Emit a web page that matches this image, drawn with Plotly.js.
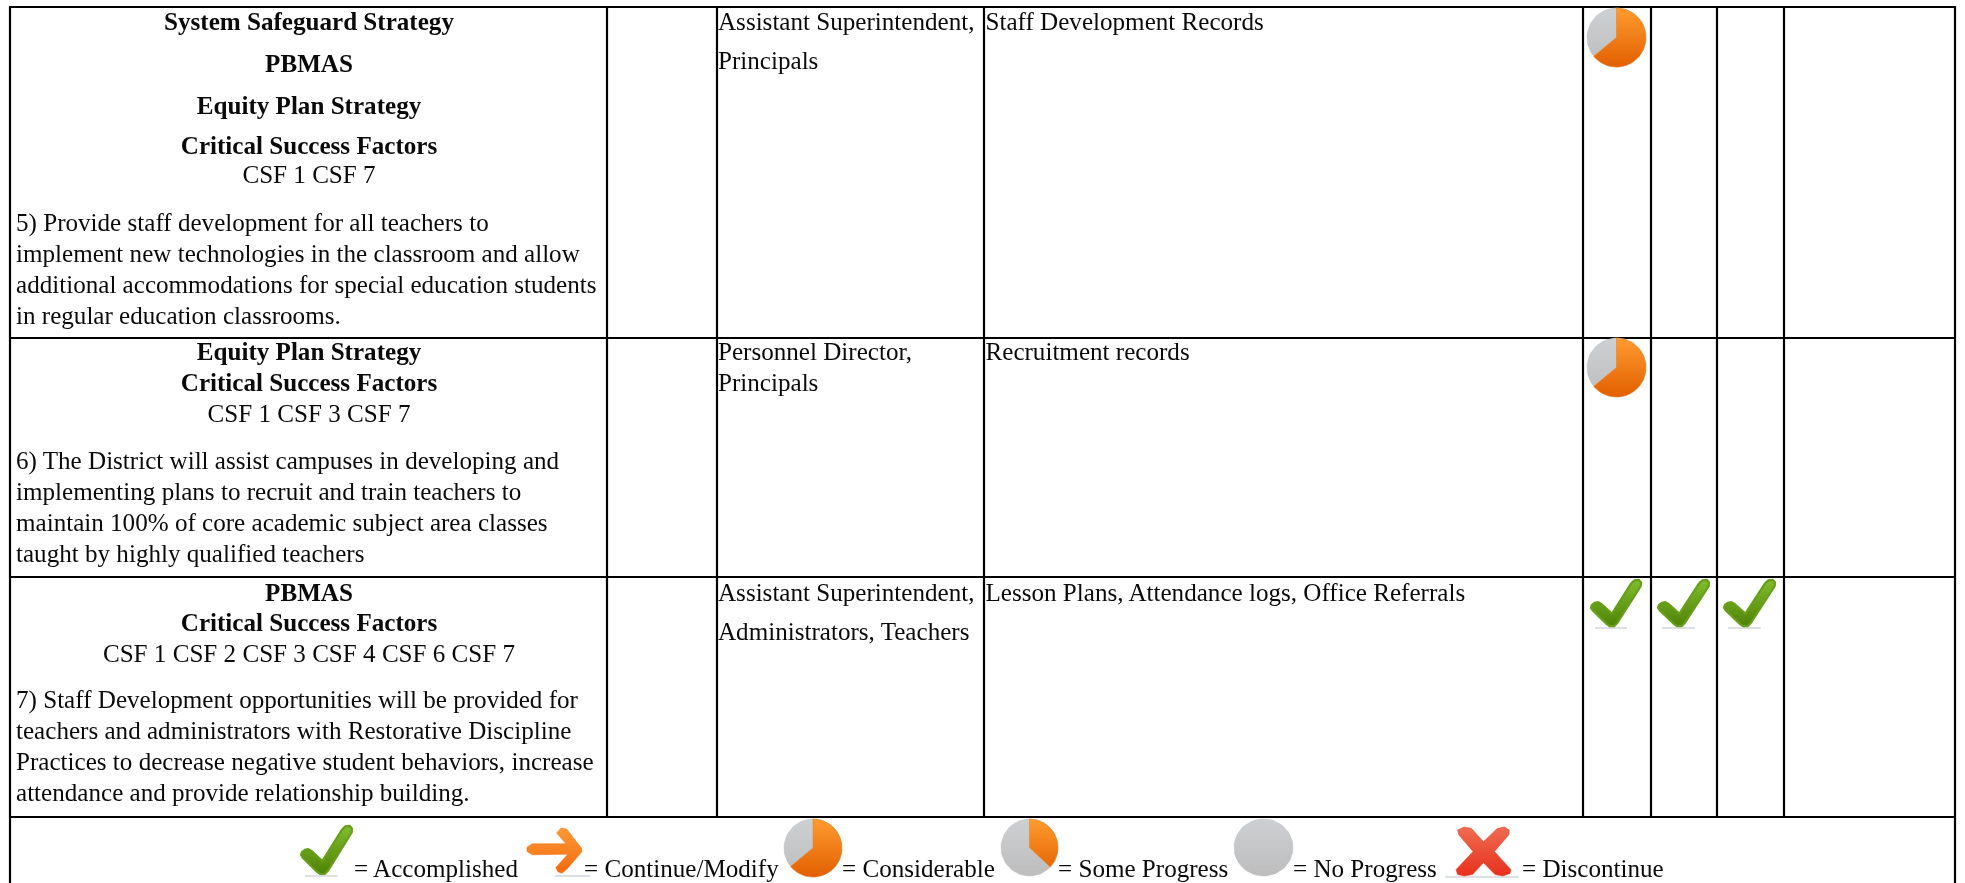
<!DOCTYPE html>
<html>
<head>
<meta charset="utf-8">
<script src="https://cdn.plot.ly/plotly-3.0.1.min.js"></script>
<style>html,body{margin:0;padding:0;background:#fff;overflow:hidden}#chart{width:1965px;height:883px;filter:blur(0.4px)}</style>
</head>
<body>
<div id="chart"></div>
<script>
// ---- table content ----
const headingsRow1 = ['System Safeguard Strategy', 'PBMAS', 'Equity Plan Strategy', 'Critical Success Factors'];
const csfRow1 = 'CSF 1 CSF 7';
const strategyRow1 = ['5) Provide staff development for all teachers to',
  'implement new technologies in the classroom and allow',
  'additional accommodations for special education students',
  'in regular education classrooms.'];
const headingsRow2 = ['Equity Plan Strategy', 'Critical Success Factors'];
const csfRow2 = 'CSF 1 CSF 3 CSF 7';
const strategyRow2 = ['6) The District will assist campuses in developing and',
  'implementing plans to recruit and train teachers to',
  'maintain 100% of core academic subject area classes',
  'taught by highly qualified teachers'];
const headingsRow3 = ['PBMAS', 'Critical Success Factors'];
const csfRow3 = 'CSF 1 CSF 2 CSF 3 CSF 4 CSF 6 CSF 7';
const strategyRow3 = ['7) Staff Development opportunities will be provided for',
  'teachers and administrators with Restorative Discipline',
  'Practices to decrease negative student behaviors, increase',
  'attendance and provide relationship building.'];
const responsible = [['Assistant Superintendent,', 'Principals'],
  ['Personnel Director,', 'Principals'],
  ['Assistant Superintendent,', 'Administrators, Teachers']];
const evidence = ['Staff Development Records', 'Recruitment records', 'Lesson Plans, Attendance logs, Office Referrals'];
const reviewStatus = [['considerable'], ['considerable'], ['accomplished', 'accomplished', 'accomplished']];
const legendLabels = ['= Accomplished', '= Continue/Modify', '= Considerable', '= Some Progress', '= No Progress', '= Discontinue'];
const progressShare = {considerable: 0.64, some: 0.37, none: 0};

// ---- page geometry (pixels of the 1965x883 sheet) ----
const colX = [10, 607, 717, 984, 1583, 1651, 1717, 1784, 1955];
const rowY = [7, 338, 577, 817];
const pieBox = [1587, 1646];
const checkBoxes = [[1591, 1641], [1658, 1709], [1724, 1775]];
const iconTop = [8, 338, 580];

const FONT = 'Liberation Serif, Times New Roman, serif';
const SIZE = 25.1, INK = '#0a0a0a';
const traces = [];

function textTrace(xs, ys, labels, pos, bold) {
  traces.push({type: 'scatter', mode: 'text', x: xs, y: ys, text: labels, textposition: pos,
    textfont: {family: FONT, size: SIZE, color: INK, weight: bold ? 700 : 400},
    hoverinfo: 'skip', showlegend: false, cliponaxis: false});
}
function blob(xs, ys, top, bottom, edge, edgeWidth) {
  const y0 = Math.min(...ys), y1 = Math.max(...ys);
  traces.push({type: 'scatter', mode: 'lines', x: xs, y: ys, fill: 'toself', hoverinfo: 'skip', showlegend: false,
    line: {color: edge || bottom, width: edgeWidth || 0.5}, fillcolor: top,
    fillgradient: {type: 'vertical', start: y0, stop: y1, colorscale: [[0, top], [1, bottom]]}});
}
// wedge/ellipse built from a progress share
function pie(x0, x1, y0, y1, share) {
  const cx = (x0 + x1) / 2, cy = (y0 + y1) / 2, rx = (x1 - x0) / 2, ry = (y1 - y0) / 2;
  const ell = (from, to) => { const xs = [], ys = [];
    for (let i = 0; i <= 72; i++) { const a = from + (to - from) * i / 72;
      xs.push(cx + rx * Math.sin(a)); ys.push(cy - ry * Math.cos(a)); }
    return [xs, ys]; };
  const [gx, gy] = ell(0, 2 * Math.PI);
  blob(gx, gy, '#cdd0d3', '#bdbdbd');
  if (share > 0) {
    const [ox, oy] = ell(0, 2 * Math.PI * share);
    traces.push({type: 'scatter', mode: 'lines', x: [cx, ...ox, cx], y: [cy, ...oy, cy], fill: 'toself', hoverinfo: 'skip', showlegend: false,
      line: {color: '#f07a12', width: 0.5}, fillcolor: '#f07a12',
      fillgradient: {type: 'vertical', start: y0, stop: y1, colorscale: [[0, '#ff9c30'], [1, '#e25f00']]}});
  }
}
// outlines in a 0..1 box
const checkOutline = [[.808,.067],[.871,.007],[.955,0],[1,.053],[.994,.133],[.529,.913],[.465,.98],[.374,.98],[.31,.933],[.032,.647],[0,.587],[.019,.533],[.077,.487],[.142,.473],[.206,.507],[.419,.713]];
const arrowOutline = [[.097,.336],[.71,.336],[.54,.107],[.62,0],[.72,.021],[.992,.429],[1,.5],[.742,.857],[.637,.964],[.56,.929],[.524,.843],[.742,.557],[.097,.571],[0,.5],[0,.407]];
const crossOutline = [[.03,.06],[.15,0],[.28,.03],[.5,.3],[.75,.03],[.88,0],[.97,.06],[.96,.16],[.7,.5],[1,.87],[.98,.95],[.85,1],[.71,.97],[.5,.73],[.3,.97],[.15,1],[.03,.97],[0,.87],[.31,.5],[.05,.16]];
function glyph(outline, x0, x1, y0, y1, top, bottom, edge, edgeWidth) {
  const xs = outline.map(p => x0 + p[0] * (x1 - x0)), ys = outline.map(p => y0 + p[1] * (y1 - y0));
  xs.push(xs[0]); ys.push(ys[0]);
  blob(xs, ys, top, bottom, edge, edgeWidth);
}
function shadow(x0, x1, y) {
  traces.push({type: 'scatter', mode: 'lines', x: [x0, x1], y: [y, y], hoverinfo: 'skip', showlegend: false,
    line: {color: 'rgba(120,130,150,0.25)', width: 2}});
}
function check(x0, x1, y0, y1) {
  shadow(x0 + (x1 - x0) * .08, x0 + (x1 - x0) * .72, y1 + 1);
  glyph(checkOutline, x0, x1, y0, y1, '#80bd2e', '#4f8206', '#679f1a', 2.2);
}

// ---- grid lines ----
const gx = [], gy = [];
colX.forEach((x, i) => {
  const outer = i === 0 || i === colX.length - 1;
  gx.push(x, x, null); gy.push(rowY[0] - 1, outer ? 883 : rowY[3] + 1, null);
});
rowY.forEach(y => { gx.push(colX[0], colX[colX.length - 1], null); gy.push(y, y, null); });
traces.push({type: 'scatter', mode: 'lines', x: gx, y: gy, line: {color: '#000000', width: 2.2}, hoverinfo: 'skip', showlegend: false});

// ---- first column ----
const headCx = 309, leftX = 16;
textTrace(headingsRow1.map(() => headCx), [24, 66, 108, 148], headingsRow1, 'middle center', true);
textTrace([headCx], [177], [csfRow1], 'middle center', false);
textTrace(strategyRow1.map(() => leftX), [224.5, 255.5, 286.5, 318], strategyRow1, 'middle right', false);
textTrace(headingsRow2.map(() => headCx), [354, 385], headingsRow2, 'middle center', true);
textTrace([headCx], [416], [csfRow2], 'middle center', false);
textTrace(strategyRow2.map(() => leftX), [463, 494, 525, 556], strategyRow2, 'middle right', false);
textTrace(headingsRow3.map(() => headCx), [594.5, 625], headingsRow3, 'middle center', true);
textTrace([headCx], [656], [csfRow3], 'middle center', false);
textTrace(strategyRow3.map(() => leftX), [702, 733, 764, 795], strategyRow3, 'middle right', false);

// ---- responsible and evidence ----
const respY = [[24, 63], [354, 385], [595, 634]];
responsible.forEach((lines, r) => textTrace(lines.map(() => 718), respY[r], lines, 'middle right', false));
evidence.forEach((t, r) => textTrace([985.5], [respY[r][0]], [t], 'middle right', false));

// ---- review marks ----
reviewStatus.forEach((marks, r) => marks.forEach((m, c) => {
  if (m === 'considerable') pie(pieBox[0], pieBox[1], iconTop[r], iconTop[r] + 59, progressShare.considerable);
  else check(checkBoxes[c][0], checkBoxes[c][1], iconTop[r], iconTop[r] + 47);
}));

// ---- legend ----
const legendY = 871;
check(301, 352, 826, 875);
shadow(555, 590, 876);
glyph(arrowOutline, 527, 582, 828, 875, '#ff9a33', '#f06a10');
pie(784, 842, 819, 877, progressShare.considerable);
pie(1001, 1058, 819, 876, progressShare.some);
pie(1234, 1293, 819, 876, progressShare.none);
shadow(1445, 1519, 877);
glyph(crossOutline, 1456, 1511, 827, 876, '#ef6c52', '#e7301c');
textTrace([354, 584, 842, 1058, 1293, 1522], legendLabels.map(() => legendY), legendLabels, 'middle right', false);

Plotly.newPlot('chart', traces, {
  width: 1965, height: 883, margin: {l: 0, r: 0, t: 0, b: 0},
  paper_bgcolor: '#ffffff', plot_bgcolor: '#ffffff', showlegend: false,
  xaxis: {range: [0, 1965], visible: false, fixedrange: true},
  yaxis: {range: [883, 0], visible: false, fixedrange: true}
}, {displayModeBar: false, staticPlot: true});
</script>
</body>
</html>
